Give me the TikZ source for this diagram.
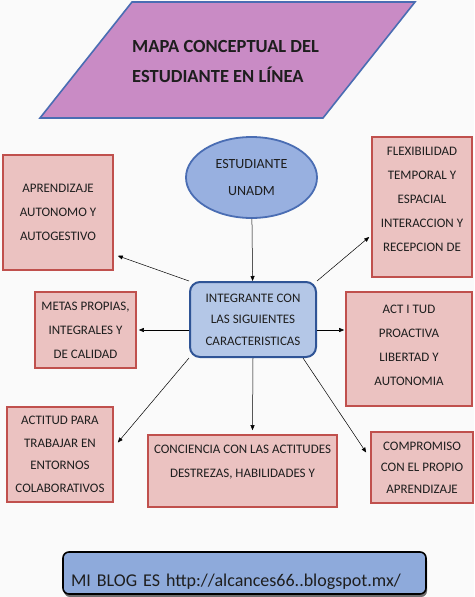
\documentclass[tikz,border=0pt]{standalone}
\usepackage{fontspec}
\setmainfont{Carlito}
\usepackage{xcolor}
\definecolor{Rosa}{HTML}{EBC2C1}
\definecolor{Rojo}{HTML}{C0504D}
\definecolor{Malva}{HTML}{C98BC5}
\definecolor{Azul}{HTML}{4A6DB3}
\definecolor{AzulClaro}{HTML}{B4C7E7}
\definecolor{AzulOscuro}{HTML}{2F5496}
\definecolor{Cielo}{HTML}{98B0E0}
\definecolor{BlogAzul}{HTML}{8EAADB}
\definecolor{Tinta}{HTML}{1E1E1E}
\definecolor{Fondo}{HTML}{FAFAFA}
\colorlet{rosa}{Rosa}
\colorlet{rojo}{Rojo}
\colorlet{malva}{Malva}
\colorlet{azul}{Azul}
\usepackage{tikz}
\usetikzlibrary{arrows.meta,shapes.geometric,shadows}

\begin{document}
\begin{tikzpicture}[x=1pt,y=-1pt,every node/.style={text=Tinta,align=center,inner sep=0pt},
caja/.style={draw=rojo,fill=rosa,line width=1.6pt,font=\fontsize{13}{24}\selectfont},
flecha/.style={-{Triangle[length=5pt,width=4pt]},line width=0.5pt}]
\fill[Fondo] (0,0) rectangle (474,597);
\useasboundingbox (0,0) rectangle (474,597);
\draw[azul,fill=malva,line width=1.6pt] (132,2)--(415,2)--(323,118)--(40,118)--cycle;
\node[anchor=west,align=left,font=\fontsize{18.5}{30}\selectfont\bfseries] (titulo) at (132,62) {MAPA CONCEPTUAL DEL\\ESTUDIANTE EN LÍNEA};
\node[ellipse,draw=azul,fill=Cielo,line width=1.8pt,minimum width=131pt,minimum height=81pt,font=\fontsize{14}{27}\selectfont] (estudiante) at (251.5,177.5) {ESTUDIANTE\\UNADM};
\node[draw=AzulOscuro,fill=AzulClaro,rounded corners=10pt,line width=2pt,minimum width=126pt,minimum height=75pt,font=\fontsize{13}{21.5}\selectfont] (integrante) at (253,319.5) {INTEGRANTE CON\\LAS SIGUIENTES\\CARACTERISTICAS};
\node[caja,minimum width=110pt,minimum height=115pt] (aprendizaje) at (58,212.5) {APRENDIZAJE\\AUTONOMO Y\\AUTOGESTIVO};
\node[caja,minimum width=100pt,minimum height=140pt] (flexibilidad) at (422,207) {FLEXIBILIDAD\\TEMPORAL Y\\ESPACIAL\\INTERACCION Y\\RECEPCION DE\\[-8pt]\mbox{}};
\node[caja,minimum width=101pt,minimum height=76pt] (metas) at (85.5,330) {METAS PROPIAS,\\INTEGRALES Y\\DE CALIDAD};
\node[caja,minimum width=126pt,minimum height=114pt] (actitud) at (409,349) {ACT I TUD\\PROACTIVA\\LIBERTAD Y\\AUTONOMIA\\[-16pt]\mbox{}};
\node[caja,minimum width=106pt,minimum height=95pt,font=\fontsize{13}{22.5}\selectfont] (colaborar) at (60,454.5) {ACTITUD PARA\\TRABAJAR EN\\ENTORNOS\\COLABORATIVOS};
\node[caja,minimum width=189pt,minimum height=72pt] (conciencia) at (242.5,471) {CONCIENCIA CON LAS ACTITUDES\\DESTREZAS, HABILIDADES Y\\[-4pt]\mbox{}};
\node[caja,minimum width=102pt,minimum height=71pt,font=\fontsize{13}{21.5}\selectfont] (compromiso) at (422,467.5) {COMPROMISO\\CON EL PROPIO\\APRENDIZAJE};
\node[draw=black,fill=BlogAzul,rounded corners=6pt,line width=1.6pt,minimum width=363pt,minimum height=42pt,text width=347pt,align=left,text height=28pt,text depth=2pt,font=\fontsize{18}{20}\selectfont,drop shadow={shadow xshift=1pt,shadow yshift=-3pt,fill=black!70,opacity=0.8}] (blog) at (244.5,573) {MI BLOG ES http://alcances66..blogspot.mx/};
\draw[flecha] (estudiante)--(integrante);
\draw[flecha] (integrante.north west)--([xshift=4pt,yshift=15pt]aprendizaje.south east);
\draw[flecha] (integrante.north east)--([xshift=-2pt,yshift=-30pt]flexibilidad.west);
\draw[flecha] (integrante.west |- metas.east)--([xshift=2pt]metas.east);
\draw[flecha,shorten >=1pt] (integrante.east |- metas.east)--(actitud.west |- metas.east);
\draw[flecha] (integrante.south west)--([xshift=4pt,yshift=12pt]colaborar.east);
\draw[flecha] (integrante.south)--([xshift=10pt,yshift=4pt]conciencia.north);
\draw[flecha] ([xshift=-14pt]integrante.south east)--([xshift=-4pt,yshift=15pt]compromiso.west);
\end{tikzpicture}
\end{document}
